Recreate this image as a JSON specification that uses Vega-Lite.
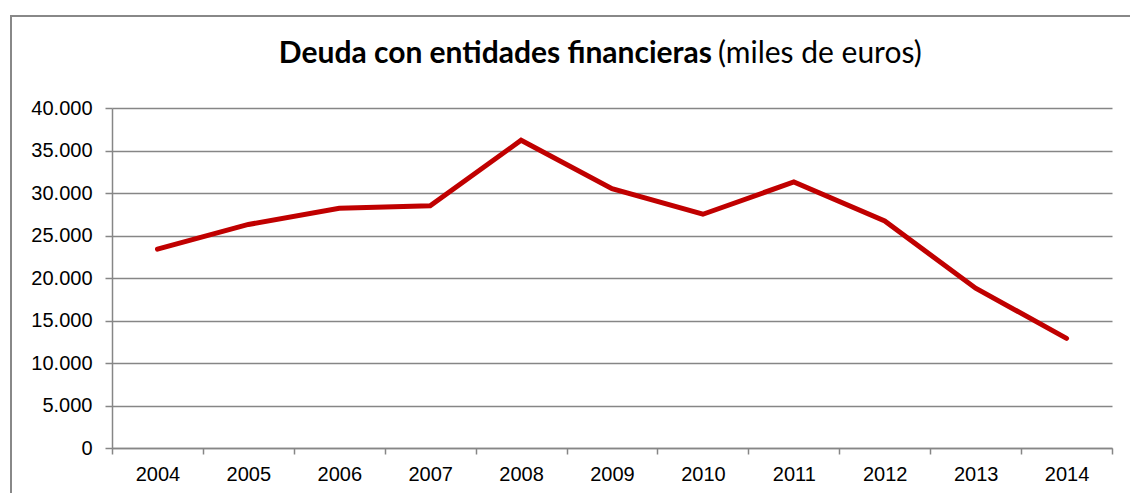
{
  "$schema": "https://vega.github.io/schema/vega-lite/v6.json",
  "autosize": {"type": "none"},
  "padding": {"left": 11, "top": 16, "right": -21, "bottom": -8},
  "width": 1140,
  "height": 485,
  "background": "white",
  "title": {
    "text": "Deuda con entidades financieras",
    "subtitle": "(miles de euros)",
    "anchor": "start",
    "frame": "group",
    "orient": "top",
    "offset": 0,
    "dy": 53,
    "font": "Lato",
    "fontSize": 30,
    "fontWeight": "bold",
    "color": "#000000",
    "subtitleFont": "Lato",
    "subtitleFontSize": 30,
    "subtitleFontWeight": "normal",
    "subtitleColor": "#000000",
    "subtitlePadding": -30,
    "encode": {
      "title": {"update": {"align": {"value": "right"}, "dx": {"value": 701}}},
      "subtitle": {"update": {"align": {"value": "left"}, "dx": {"value": 707}}}
    }
  },
  "data": {
    "values": [
      {"year": "2004", "value": 23400},
      {"year": "2005", "value": 26300},
      {"year": "2006", "value": 28200},
      {"year": "2007", "value": 28500},
      {"year": "2008", "value": 36200},
      {"year": "2009", "value": 30500},
      {"year": "2010", "value": 27500},
      {"year": "2011", "value": 31300},
      {"year": "2012", "value": 26700},
      {"year": "2013", "value": 18800},
      {"year": "2014", "value": 12900}
    ]
  },
  "mark": {"type": "line", "color": "#C00000", "strokeWidth": 5, "strokeCap": "round", "strokeJoin": "miter"},
  "encoding": {
    "x": {
      "field": "year",
      "type": "ordinal",
      "scale": {"type": "band", "range": [101, 1101], "paddingInner": 0, "paddingOuter": 0},
      "axis": {
        "title": null,
        "offset": -53,
        "labelAngle": 0,
        "tickBand": "extent",
        "grid": false,
        "tickSize": 6,
        "tickColor": "#868686",
        "tickWidth": 1.5,
        "domainColor": "#868686",
        "domainWidth": 1.5,
        "labelPadding": 10,
        "labelFont": "Arial",
        "labelFontSize": 20,
        "labelColor": "#000000"
      }
    },
    "y": {
      "field": "value",
      "type": "quantitative",
      "scale": {"domain": [0, 40000], "range": [432, 92], "nice": false, "zero": true},
      "axis": {
        "title": null,
        "offset": -101,
        "values": [0, 5000, 10000, 15000, 20000, 25000, 30000, 35000, 40000],
        "labelExpr": "replace(format(datum.value, ',d'), ',', '.')",
        "grid": true,
        "gridColor": "#868686",
        "gridWidth": 1.5,
        "tickSize": 7,
        "tickColor": "#868686",
        "tickWidth": 1.5,
        "domainColor": "#868686",
        "domainWidth": 1.5,
        "labelPadding": 13,
        "labelFont": "Arial",
        "labelFontSize": 20,
        "labelColor": "#000000"
      }
    }
  },
  "config": {
    "font": "Arial",
    "view": {"stroke": "#888888", "strokeWidth": 2}
  }
}
